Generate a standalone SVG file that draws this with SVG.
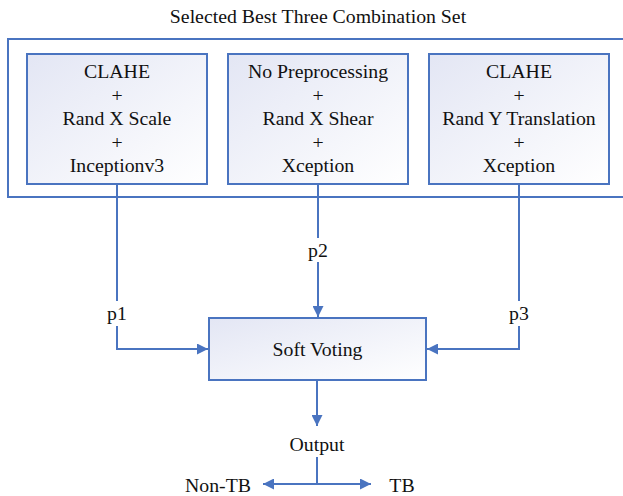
<svg xmlns="http://www.w3.org/2000/svg" width="623" height="496" viewBox="0 0 623 496">
<style>
text{font-family:'Liberation Serif','Times New Roman','DejaVu Serif',serif;font-size:19.8px;fill:#111;text-anchor:middle}
.box{fill:url(#g);stroke:#4a74c0;stroke-width:2}
.ln{fill:none;stroke:#4a74c0;stroke-width:2}
</style>
<defs>
<linearGradient id="g" x1="0" y1="0" x2="1" y2="1">
<stop offset="0" stop-color="#e3e6f4"/>
<stop offset="1" stop-color="#ffffff"/>
</linearGradient>
<marker id="ah" viewBox="0 0 10 10" refX="10" refY="5" markerWidth="11" markerHeight="11" markerUnits="userSpaceOnUse" orient="auto">
<path d="M0,0 L10,5 L0,10 Z" fill="#4a74c0"/>
</marker>
</defs>
<g font-family="Liberation Serif, Times New Roman, DejaVu Serif, serif">
<text x="318" y="23">Selected Best Three Combination Set</text>
<g id="frame"><rect x="8" y="39" width="630" height="158" fill="none" stroke="#4a74c0" stroke-width="2"/></g>
<g id="connectors">
<path class="ln" d="M117,184 V301"/>
<path class="ln" d="M117,326 V349 H208" marker-end="url(#ah)"/>
<path class="ln" d="M318,184 V238"/>
<path class="ln" d="M318,262 V317" marker-end="url(#ah)"/>
<path class="ln" d="M519,184 V301"/>
<path class="ln" d="M519,326 V349 H427" marker-end="url(#ah)"/>
<path class="ln" d="M317,381 V426" marker-end="url(#ah)"/>
<path class="ln" d="M317,457 V484"/>
<path class="ln" d="M317,484 H263" marker-end="url(#ah)"/>
<path class="ln" d="M317,484 H371" marker-end="url(#ah)"/>
</g>
<g id="n1"><rect class="box" x="27" y="54" width="180" height="130"/>
<text x="117" y="78.3">CLAHE</text><text x="117" y="101.8">+</text><text x="117" y="125.3">Rand X Scale</text><text x="117" y="148.8">+</text><text x="117" y="172.3">Inceptionv3</text></g>
<g id="n2"><rect class="box" x="228" y="54" width="180" height="130"/>
<text x="318" y="78.3">No Preprocessing</text><text x="318" y="101.8">+</text><text x="318" y="125.3">Rand X Shear</text><text x="318" y="148.8">+</text><text x="318" y="172.3">Xception</text></g>
<g id="n3"><rect class="box" x="429" y="54" width="180" height="130"/>
<text x="519" y="78.3">CLAHE</text><text x="519" y="101.8">+</text><text x="519" y="125.3">Rand Y Translation</text><text x="519" y="148.8">+</text><text x="519" y="172.3">Xception</text></g>
<g id="sv"><rect class="box" x="209" y="318" width="217" height="62"/>
<text x="317.5" y="356">Soft Voting</text></g>
<g id="labels">
<text x="117" y="320">p1</text>
<text x="318" y="257">p2</text>
<text x="519" y="320">p3</text>
<text x="317" y="451">Output</text>
<text x="218" y="492">Non-TB</text>
<text x="402" y="492">TB</text>
</g>
</g>
</svg>
